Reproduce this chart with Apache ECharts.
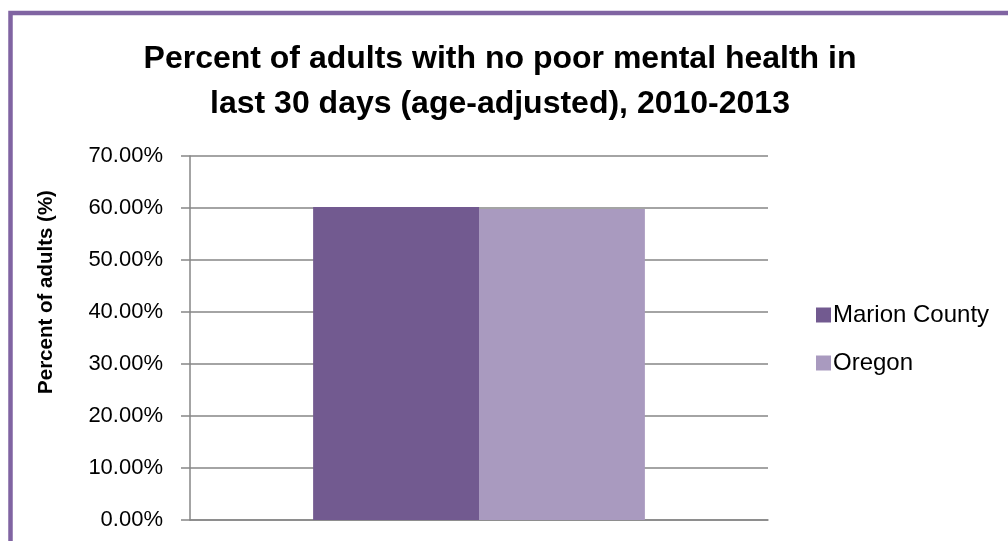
<!DOCTYPE html>
<html>
<head>
<meta charset="utf-8">
<script src="https://cdn.jsdelivr.net/npm/echarts@6/dist/echarts.min.js"></script>
<style>
html,body{margin:0;padding:0;background:#fff;}
#chart{width:1008px;height:541px;}
</style>
</head>
<body>
<div id="chart"></div>
<script>
const categories = [''];
const seriesNames = ['Marion County', 'Oregon'];
const marionValues = [60.2];
const oregonValues = [59.8];
const yTicks = { min: 0, max: 70, interval: 10 };

const chart = echarts.init(document.getElementById('chart'), null, { renderer: 'canvas' });
const font = '"Liberation Sans", Arial, sans-serif';
chart.setOption({
  animation: false,
  backgroundColor: '#ffffff',
  graphic: [{
    type: 'rect',
    shape: { x: 10.5, y: 13, width: 1200, height: 700 },
    style: { fill: 'none', stroke: '#8064A2', lineWidth: 4.5 },
    silent: true
  }],
  title: {
    text: 'Percent of adults with no poor mental health in\nlast 30 days (age-adjusted), 2010-2013',
    left: 495,
    textAlign: 'center',
    top: 32,
    textStyle: { fontFamily: font, fontWeight: 'bold', fontSize: 32, lineHeight: 45, color: '#000' }
  },
  legend: {
    orient: 'vertical',
    left: 811,
    top: 298,
    itemWidth: 15,
    itemHeight: 15,
    itemGap: 24,
    icon: 'rect',
    textStyle: { fontFamily: font, fontSize: 24, color: '#000', padding: [0, 0, 0, -3] },
    data: seriesNames
  },
  grid: { left: 190, right: 240, top: 156, bottom: 21, containLabel: false },
  xAxis: {
    type: 'category',
    data: categories,
    axisLine: { lineStyle: { color: '#868686', width: 1.5 } },
    axisTick: { show: false },
    axisLabel: { show: false }
  },
  yAxis: {
    type: 'value',
    min: yTicks.min,
    max: yTicks.max,
    interval: yTicks.interval,
    name: 'Percent of adults (%)',
    nameLocation: 'middle',
    nameGap: 133,
    nameRotate: 90,
    nameTextStyle: { fontFamily: font, fontWeight: 'bold', fontSize: 20.5, color: '#000', padding: [0, 0, 0, 92] },
    axisLine: { show: true, lineStyle: { color: '#868686', width: 1.5 } },
    axisTick: { show: true, length: 9, lineStyle: { color: '#868686', width: 1.5 } },
    axisLabel: {
      margin: 27,
      fontFamily: font,
      fontSize: 22,
      color: '#000',
      formatter: v => v.toFixed(2) + '%'
    },
    splitLine: { show: true, lineStyle: { color: '#868686', width: 1.5 } }
  },
  series: [
    { name: seriesNames[0], type: 'bar', data: marionValues, barGap: '0%', barCategoryGap: '42.6%', itemStyle: { color: '#725A90' } },
    { name: seriesNames[1], type: 'bar', data: oregonValues, barGap: '0%', barCategoryGap: '42.6%', itemStyle: { color: '#A99ABF' } }
  ]
});
</script>
</body>
</html>
